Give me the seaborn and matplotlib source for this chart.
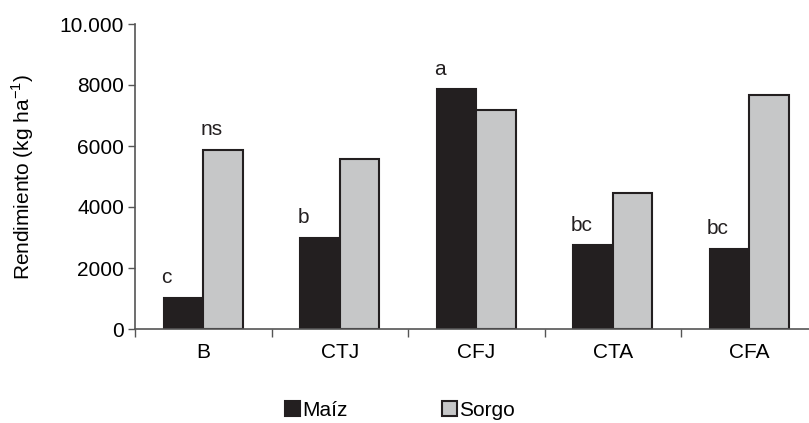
import matplotlib
matplotlib.use("Agg")
import matplotlib.pyplot as plt
from matplotlib.ticker import FixedLocator
import pandas
import seaborn

TREATMENTS = ["B", "CTJ", "CFJ", "CTA", "CFA"]
MAIZ = [1030, 3000, 7860, 2740, 2620]
SORGO = [5880, 5580, 7180, 4450, 7670]
MAIZ_LETTERS = ["c", "b", "a", "bc", "bc"]
SORGO_LETTERS = ["ns", "", "", "", ""]
Y_TICKS = [0, 2000, 4000, 6000, 8000, 10000]
Y_TICK_LABELS = ["0", "2000", "4000", "6000", "8000", "10.000"]

PALETTE = {"Maíz": "#231f20", "Sorgo": "#c6c7c8"}

plt.rcParams["font.family"] = ["Liberation Sans", "DejaVu Sans"]

df = pandas.DataFrame({
    "trat": TREATMENTS * 2,
    "cultivo": ["Maíz"] * len(TREATMENTS) + ["Sorgo"] * len(TREATMENTS),
    "rend": MAIZ + SORGO,
})

fig = plt.figure(figsize=(8.09, 4.23), dpi=100)
ax = fig.add_axes([135 / 809, 1 - 329 / 423, 674 / 809, 305 / 423])

seaborn.barplot(data=df, x="trat", y="rend", hue="cultivo", palette=PALETTE,
                width=0.58, gap=0, edgecolor="#231f20", linewidth=1.5,
                saturation=1, ax=ax)

ax.set_xlim(-0.5, -0.5 + 674 / 136.5)
ax.set_ylim(0, 10000)
ax.set_yticks(Y_TICKS)
ax.set_yticklabels(Y_TICK_LABELS, fontsize=15)
ax.tick_params(axis="y", length=5, width=1, pad=3, color="#555555")
ax.set_xticklabels(TREATMENTS, fontsize=15)
ax.tick_params(axis="x", which="major", length=0, pad=10)
ax.xaxis.set_minor_locator(FixedLocator([i - 0.5 for i in range(len(TREATMENTS))]))
ax.tick_params(axis="x", which="minor", length=6, width=1, color="#555555")
ax.set_xlabel("")
ax.set_ylabel(r"Rendimiento (kg ha$^{\mathregular{-1}}$)", fontsize=15, labelpad=17)

for side in ["top", "right"]:
    ax.spines[side].set_visible(False)
for side in ["left", "bottom"]:
    ax.spines[side].set_color("#555555")
    ax.spines[side].set_linewidth(1.2)

# letras de significancia sobre las barras
for cont, letters in zip(ax.containers, [MAIZ_LETTERS, SORGO_LETTERS]):
    for p, lab in zip(cont.patches, letters):
        if lab:
            ax.text(p.get_x() - 0.02, p.get_height() + 350, lab, ha="left",
                    va="bottom", fontsize=15, color="#231f20")

ax.get_legend().remove()
handles, labels = ax.get_legend_handles_labels()
fig.legend(handles, labels, loc="center", bbox_to_anchor=(400 / 809, 1 - 410 / 423),
           ncol=2, frameon=False, fontsize=15, handlelength=0.75, handleheight=0.75,
           handletextpad=0.1, columnspacing=4.5)

plt.savefig("out.png", dpi=100)
